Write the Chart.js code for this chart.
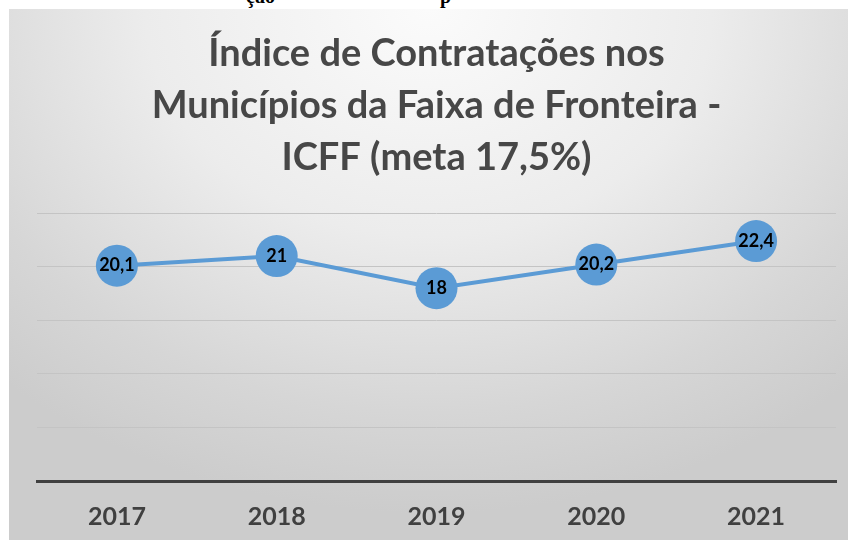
<!DOCTYPE html>
<html>
<head>
<meta charset="utf-8">
<script src="https://cdn.jsdelivr.net/npm/chart.js@4/dist/chart.umd.min.js"></script>
<style>
  body { margin: 0; background: #fff; width: 851px; height: 548px; overflow: hidden; position: relative; }
  #cap { position: absolute; left: 0; top: 0; width: 851px; height: 9px; overflow: hidden; }
  #cap span { position: absolute; top: -15px; font: bold 20px "Liberation Serif", serif; color: #000; }
  #box {
    position: absolute; left: 9px; top: 9px; width: 839px; height: 531px;
    background: radial-gradient(ellipse 75% 95% at 50% 0%, #fbfbfb 0%, #ececec 45%, #d6d6d6 80%, #cccccc 100%);
  }
</style>
</head>
<body>
<div id="cap"><span style="left:246px">ção</span><span style="left:440px">p</span></div>
<div id="box"><canvas id="myChart" width="839" height="531"></canvas></div>
<script>
    // dados do gráfico
    var anos = ["2017", "2018", "2019", "2020", "2021"];
    var icff = [20.1, 21, 18, 20.2, 22.4];
    var tituloLinhas = ["Índice de Contratações nos", "Municípios da Faixa de Fronteira -", "ICFF (meta 17,5%)"];

    // rótulos dentro dos círculos
    var rotulos = {
        id: "rotulos",
        afterDatasetsDraw: function (chart) {
            var ctx = chart.ctx;
            var meta = chart.getDatasetMeta(0);
            ctx.save();
            ctx.font = "bold 18px Lato";
            ctx.fillStyle = "#000";
            ctx.textAlign = "center";
            ctx.textBaseline = "middle";
            meta.data.forEach(function (pt, i) {
                ctx.fillText(String(icff[i]).replace(".", ","), pt.x, pt.y);
            });
            ctx.restore();
        }
    };

    new Chart(document.getElementById("myChart"), {
        type: "line",
        data: {
            labels: anos,
            datasets: [{
                data: icff,
                borderColor: "#5b9bd5",
                borderWidth: 4,
                backgroundColor: "#5b9bd5",
                pointBackgroundColor: "#5b9bd5",
                pointBorderWidth: 0,
                pointRadius: 21,
                tension: 0
            }]
        },
        options: {
            responsive: false,
            animation: false,
            layout: { autoPadding: false, padding: { left: 28, right: 12, top: 0, bottom: 0 } },
            plugins: {
                legend: { display: false },
                tooltip: { enabled: false },
                title: {
                    display: true,
                    text: tituloLinhas,
                    color: "#474747",
                    font: { family: "Lato", size: 38, weight: "bold", lineHeight: 1.37 },
                    padding: { top: 19, bottom: 29 }
                }
            },
            scales: {
                x: {
                    offset: true,
                    grid: { display: false, drawTicks: false },
                    border: { display: true, color: "#404040", width: 3 },
                    ticks: { color: "#404040", font: { family: "Lato", size: 25, weight: "bold" }, padding: 21 },
                    afterFit: function (scale) {
                        scale.height = 59;
                    }
                },
                y: {
                    min: 0, max: 25,
                    ticks: { display: false, stepSize: 5 },
                    grid: { color: "#c4c4c4", lineWidth: 1, drawTicks: false },
                    border: { display: false }
                }
            }
        },
        plugins: [rotulos]
    });
</script>
</body>
</html>
